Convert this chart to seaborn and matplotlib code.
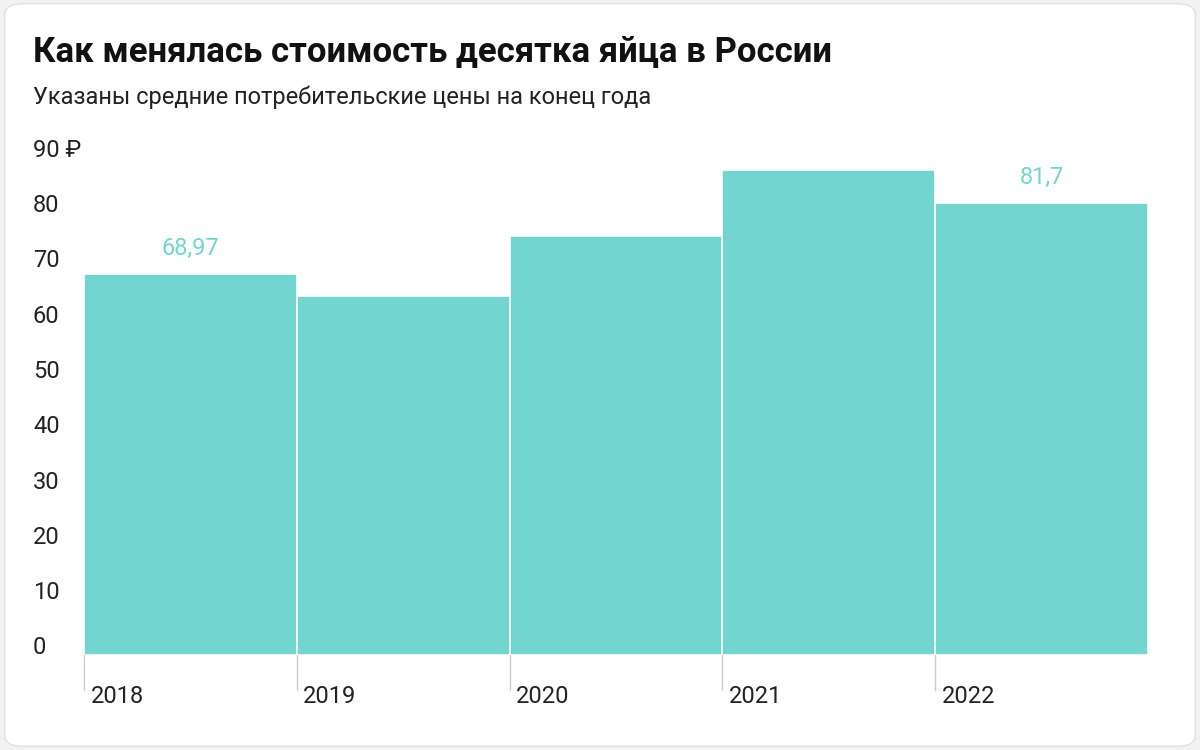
import matplotlib
matplotlib.use("Agg")
import matplotlib.pyplot as plt
import seaborn as sns
import pandas as pd
from matplotlib.patches import FancyBboxPatch

years = ["2018", "2019", "2020", "2021", "2022"]
prices = [68.97, 64.9, 75.8, 87.7, 81.7]
value_labels = {"2018": "68,97", "2022": "81,7"}
yticks = [0, 10, 20, 30, 40, 50, 60, 70, 80, 90]
ytick_labels = ["0", "10", "20", "30", "40", "50", "60", "70", "80", "90 ₽"]

df = pd.DataFrame({"year": years, "price": prices})
color = "#72d5d0"
font = "Roboto"

fig = plt.figure(figsize=(12, 7.5), dpi=100)
fig.patch.set_facecolor("#f2f2f2")
card = FancyBboxPatch((0.004, 0.005), 0.992, 0.99, boxstyle="round,pad=0,rounding_size=0.015",
                      transform=fig.transFigure, facecolor="white", edgecolor="#e0e0e0", lw=1,
                      zorder=-10)
fig.patches.append(card)

ax = fig.add_axes([84/1200, 1-655/750, (1148-84)/1200, (655-150)/750])
ax.set_facecolor("none")
sns.barplot(data=df, x="year", y="price", color=color, width=1.0, ax=ax,
            edgecolor="white", linewidth=1.2, saturation=1)
ax.set_xlim(-0.5, 4.5)
ax.set_ylim(0, 91.3)
for s in ax.spines.values():
    s.set_visible(False)
ax.set_xlabel(""); ax.set_ylabel("")
ax.set_xticks([]); ax.set_yticks([])

for i, (y, v) in enumerate(zip(years, prices)):
    if y in value_labels:
        ax.text(i, v + 2.5, value_labels[y], ha="center", va="bottom", color=color,
                fontsize=17, family=font)
    ax.plot([i - 0.5, i - 0.5], [0, -6.3], color="#cccccc", lw=1, clip_on=False)
    ax.text(i - 0.5 + 0.03, -7.5, y, ha="left", va="center", fontsize=17, family=font, color="#222")

for t, lab in zip(yticks, ytick_labels):
    fig.text(33/1200, 1 - (655 - t*5.53 - 7)/750, lab, ha="left", va="center",
             fontsize=17, family=font, color="#222")

fig.text(33/1200, 1-52/750, "Как менялась стоимость десятка яйца в России", fontsize=25,
         fontweight="bold", family=font, va="center", color="#111")
fig.text(33/1200, 1-97/750, "Указаны средние потребительские цены на конец года", fontsize=17,
         family=font, va="center", color="#222")

fig.savefig("out.png", dpi=100)
